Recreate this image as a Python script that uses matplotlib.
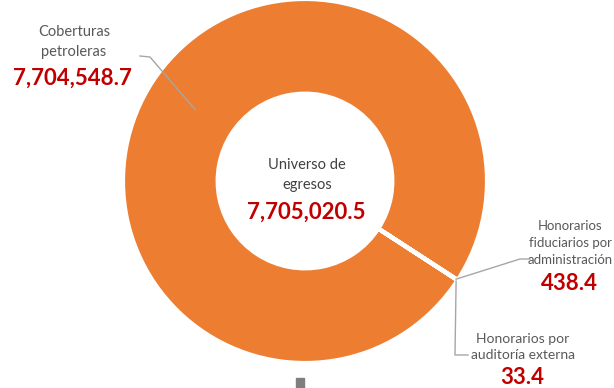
import matplotlib.pyplot as plt
import numpy as np

# Datos
categorias = ['Coberturas\npetroleras', 'Honorarios\nfiduciarios por\nadministración',
              'Honorarios por\nauditoría externa']
montos = [7704548.7, 438.4, 33.4]
titulo_total = 'Universo de\negresos'
total = 7705020.5

naranja = '#ED7D31'
rojo = '#C00000'
gris = '#595959'
plt.rcParams['font.family'] = ['Lato', 'DejaVu Sans']

fig = plt.figure(figsize=(6.14, 3.88), dpi=100)
ax = fig.add_axes([0, 0, 1, 1])

# dona (coordenadas en pixeles, y hacia arriba)
cx, cy, R = 305, 207, 182
wedges, _ = ax.pie(montos, center=(cx, cy), radius=R, startangle=-33,
                   colors=[naranja] * len(montos), frame=True,
                   wedgeprops=dict(width=R * 0.52, edgecolor='white', linewidth=3))
ax.set_xlim(0, 614)
ax.set_ylim(0, 388)
ax.axis('off')


def punto(w, r):
    t = np.deg2rad((w.theta1 + w.theta2) / 2)
    return cx + r * np.cos(t), cy + r * np.sin(t)


def fmt(v):
    return f'{v:,.1f}'


# texto central
ax.text(cx + 2, 213, titulo_total, ha='center', va='center', fontsize=10.5,
        color='#404040', linespacing=1.5)
ax.text(cx + 1, 176, fmt(total), ha='center', va='center', fontsize=16,
        color=rojo, fontweight='bold')

# Coberturas
x0, y0 = punto(wedges[0], R * 0.72)
ax.plot([140, 150, x0], [332, 331, y0], color='#A6A6A6', lw=1)
ax.text(74, 346, categorias[0], ha='center', va='center', fontsize=10.5,
        color=gris, linespacing=1.5)
ax.text(72, 310, fmt(montos[0]), ha='center', va='center', fontsize=16,
        color=rojo, fontweight='bold')

# Honorarios fiduciarios
x1, y1 = punto(wedges[1], R * 0.99)
ax.plot([x1, 520, 530], [y1, 129, 129], color='#A6A6A6', lw=1)
ax.text(570, 145, categorias[1], ha='center', va='center', fontsize=9.5,
        color=gris, linespacing=1.5)
ax.text(569, 105, fmt(montos[1]), ha='center', va='center', fontsize=16,
        color=rojo, fontweight='bold')

# Honorarios auditoria
x2, y2 = punto(wedges[2], R * 0.99)
ax.plot([x2, 455, 468], [y2 - 2, 33, 33], color='#A6A6A6', lw=1)
ax.text(523, 41, categorias[2], ha='center', va='center', fontsize=10,
        color=gris, linespacing=1.4)
ax.text(522, 11, fmt(montos[2]), ha='center', va='center', fontsize=16,
        color=rojo, fontweight='bold')

# pequeno cuadro gris al pie
ax.add_patch(plt.Rectangle((296, 0), 8, 10, color='#7F7F7F'))

fig.savefig('out.png', dpi=100)
